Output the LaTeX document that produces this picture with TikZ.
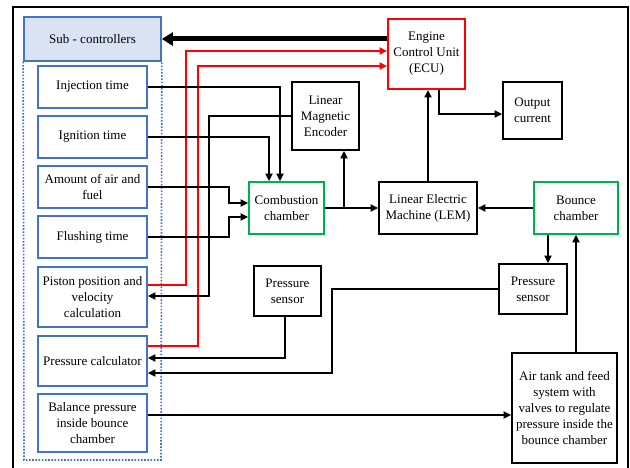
\documentclass[tikz,border=0pt]{standalone}
\usepackage{fontspec}
\setmainfont{Liberation Serif}
\usetikzlibrary{arrows.meta,calc}
\definecolor{bblue}{HTML}{4472C4}
\definecolor{lblue}{HTML}{DAE3F3}
\definecolor{ggreen}{HTML}{00B050}
\definecolor{rred}{HTML}{FF0000}
\begin{document}
\begin{tikzpicture}[x=1pt,y=1pt,
 box/.style={draw, line width=1.7pt, align=center, inner sep=0pt, font=\fontsize{13}{16}\selectfont},
 blk/.style={box, draw=black},
 blu/.style={box, draw=bblue},
 grn/.style={box, draw=ggreen},
 conn/.style={line width=2pt, -{Triangle[length=7.5pt,width=7pt]}},
 redc/.style={conn, draw=rred},
 bigc/.style={line width=5pt, -{Triangle[length=11pt,width=13pt]}}]
\useasboundingbox (0,0) rectangle (630,-468);
\begin{scope}
\clip (0,0) rectangle (630,-468);
\draw[line width=2pt] (13,-7) rectangle (628,-500);
\end{scope}
% left column
\node[blu, fill=lblue, minimum width=137pt, minimum height=44pt] (sub) at (92.5,-39) {Sub - controllers};
\draw[bblue, line width=1.6pt, dash pattern=on 1.6pt off 1.6pt] (sub.south west) -- (24,-460) -- (161,-460) -- (sub.south east);
\node[blu, minimum width=109pt, minimum height=42pt] (inj) at (92.5,-87) {Injection time};
\node[blu, minimum width=109pt, minimum height=42pt] (ign) at (92.5,-137) {Ignition time};
\node[blu, minimum width=109pt, minimum height=42pt] (air) at (92.5,-187) {Amount of air and\\fuel};
\node[blu, minimum width=109pt, minimum height=42pt] (flush) at (92.5,-237) {Flushing time};
\node[blu, minimum width=109pt, minimum height=60pt] (piston) at (92.5,-297) {Piston position and\\velocity\\calculation};
\node[blu, minimum width=109pt, minimum height=50pt] (pcalc) at (92.5,-361) {Pressure calculator};
\node[blu, minimum width=109pt, minimum height=58pt] (bal) at (92.5,-423) {Balance pressure\\inside bounce\\chamber};
% right part
\node[box, draw=rred, line width=2pt, minimum width=77pt, minimum height=70pt] (ecu) at (426.5,-54) {Engine\\Control Unit\\(ECU)};
\node[blk, minimum width=59pt, minimum height=57pt] (out) at (532.5,-110.5) {Output\\current};
\node[blk, minimum width=67pt, minimum height=68pt] (enc) at (325.5,-116) {Linear\\Magnetic\\Encoder};
\node[grn, minimum width=75pt, minimum height=52pt] (comb) at (286.5,-208) {Combustion\\chamber};
\node[blk, minimum width=98pt, minimum height=52pt] (lem) at (428,-208) {Linear Electric\\Machine (LEM)};
\node[grn, minimum width=84pt, minimum height=52pt] (bounce) at (576,-208) {Bounce\\chamber};
\node[blk, minimum width=67pt, minimum height=50pt] (ps1) at (287.5,-291) {Pressure\\sensor};
\node[blk, minimum width=68pt, minimum height=50pt] (ps2) at (533,-289) {Pressure\\sensor};
\node[blk, minimum width=105pt, minimum height=110pt] (tank) at (564.5,-408) {Air tank and feed\\system with\\valves to regulate\\pressure inside the\\bounce chamber};
% helper x positions
\coordinate (xa) at (280,0);
\coordinate (xb) at (269,0);
\coordinate (xc) at (229,0);
\coordinate (xd) at (209,0);
\coordinate (xe) at (332,0);
\coordinate (xf) at (344,0);
\coordinate (xg) at (439,0);
\coordinate (xh) at (548,0);
\coordinate (xr1) at (186,0);
\coordinate (xr2) at (198,0);
% connectors
\draw[bigc] (ecu.west |- sub.east) -- (sub.east);
\coordinate (r1s) at ([yshift=12pt]piston.east);
\coordinate (r1e) at ([yshift=3pt]ecu.west);
\draw[redc] (r1s) -- (r1s -| xr1) -- (r1e -| xr1) -- (r1e);
\coordinate (r2s) at ([yshift=15pt]pcalc.east);
\coordinate (r2e) at ([yshift=-12pt]ecu.west);
\draw[redc] (r2s) -- (r2s -| xr2) -- (r2e -| xr2) -- (r2e);
\draw[conn] (inj.east) -- (inj.east -| xa) -- (comb.north -| xa);
\draw[conn] (ign.east) -- (ign.east -| xb) -- (comb.north -| xb);
\coordinate (ca) at ([yshift=5pt]comb.west);
\coordinate (cf) at ([yshift=-9pt]comb.west);
\draw[conn] (air.east) -- (air.east -| xc) -- (ca -| xc) -- (ca);
\draw[conn] (flush.east) -- (flush.east -| xc) -- (cf -| xc) -- (cf);
\coordinate (pe) at ([yshift=1pt]piston.east);
\draw[conn] (enc.west) -- (enc.west -| xd) -- (pe -| xd) -- (pe);
\draw[conn] (comb.east) -- (lem.west);
\draw[conn] (comb.east -| xf) -- (enc.south -| xf);
\draw[conn] (lem.north) -- (lem.north |- ecu.south);
\coordinate (oe) at ([yshift=-3.5pt]out.west);
\draw[conn] (ecu.south -| xg) -- (oe -| xg) -- (oe);
\draw[conn] (bounce.west) -- (lem.east);
\draw[conn] (bounce.south -| xh) -- (ps2.north -| xh);
\draw[conn] (tank.north -| bounce.south) -- (bounce.south);
\coordinate (p1) at ([yshift=3pt]pcalc.east);
\coordinate (p2) at ([yshift=-12pt]pcalc.east);
\coordinate (s1) at ([xshift=-2.5pt]ps1.south);
\draw[conn] (s1) -- (s1 |- p1) -- (p1);
\draw[conn] (ps2.west) -- (ps2.west -| xe) -- (p2 -| xe) -- (p2);
\coordinate (b1) at ([yshift=8pt]bal.east);
\draw[conn] (b1) -- (b1 -| tank.west);
\end{tikzpicture}
\end{document}
